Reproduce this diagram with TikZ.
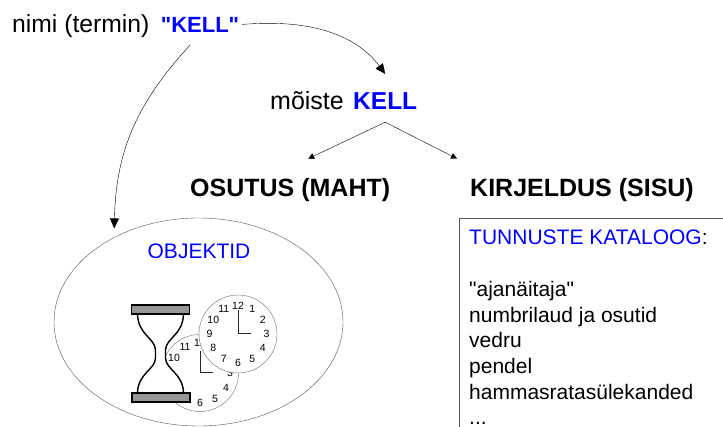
\documentclass[tikz,border=0pt]{standalone}
\usepackage{fontspec}
\setmainfont{Liberation Sans}[Ligatures=TeXOff]
\usepackage{tikz}
\usepackage{xcolor}
\usetikzlibrary{arrows.meta, positioning, shapes.geometric}

\definecolor{kellblue}{RGB}{0,0,255}
\definecolor{rim}{RGB}{85,85,85}
\definecolor{dial}{RGB}{110,110,110}
\definecolor{bargray}{RGB}{150,150,150}
\newcommand{\fsz}[1]{\fontsize{#1}{#1}\selectfont}

\begin{document}
\begin{tikzpicture}[x=1pt, y=-1pt,
    txt/.style={inner sep=0pt, anchor=base west},
    arr/.style={-{Triangle[length=10pt,width=9pt]}, thin},
    sarr/.style={-{Triangle[length=6pt,width=6pt]}, thin},
    num/.style={inner sep=0pt, font=\fsz{10.5}},
    hand/.style={black!85, line width=1pt},
    glass/.style={black, line width=1.4pt}]
    \useasboundingbox (0,0) rectangle (723,427);

    % Name and concept
    \node[txt, font=\fsz{24.7}] (term) at (12,33) {nimi (termin)};
    \node[txt, font=\fsz{22}\bfseries, text=kellblue, right=11pt of term.base east, anchor=base west] (word) {"KELL"};
    \node[txt, font=\fsz{25}] (concept) at (270,110) {mõiste};
    \node[txt, font=\fsz{24.5}\bfseries, text=kellblue, right=9pt of concept.base east, anchor=base west] (kell) {KELL};
    \node[txt, font=\fsz{25}\bfseries] (extent) at (190,197) {OSUTUS (MAHT)};
    \node[txt, font=\fsz{25}\bfseries] (intent) at (470,197) {KIRJELDUS (SISU)};

    % Arrows
    \draw[arr] ([xshift=3pt,yshift=1pt]word.east) .. controls (320,18) and (360,40) .. ([yshift=19pt]kell.north);
    \draw[sarr] ([yshift=-12pt]kell.south) -- ([shift={(18,-20)}]extent.north);
    \draw[sarr] ([yshift=-12pt]kell.south) -- ([shift={(-13,-20)}]intent.north west);

    % Objects
    \node[ellipse, draw=rim, minimum width=289pt, minimum height=208pt, inner sep=0pt] (objects) at (198.5,322) {};
    \node[inner sep=0pt, anchor=base, font=\fsz{21}, text=kellblue] (objlabel) at (199,259) {OBJEKTID};
    \draw[arr, shorten >=9pt] ([shift={(-10,12)}]word.south) .. controls (130,110) and (116,160) .. (objects.135);

    % Back clock
    \coordinate (bc) at (200,373);
    \draw[dial, fill=white] (bc) circle[radius=38.5pt];
    \foreach \n in {1,...,12}
        \node[num] (b\n) at ([shift={(90-30*\n:30pt)}]bc) {\n};
    \draw[hand] ([yshift=22pt]bc) -- (bc) -- ([xshift=13pt]bc);

    % Hourglass
    \fill[white] (137.5,314) .. controls (138,335) and (155,338) .. (155.5,350) -- (155.5,358)
        .. controls (155,370) and (138,373) .. (137.5,393) -- (183.5,393)
        .. controls (183,373) and (166,370) .. (165.5,358) -- (165.5,350)
        .. controls (166,338) and (183,335) .. (183.5,314) -- cycle;
    \draw[glass] (137.5,314) .. controls (138,335) and (155,338) .. (155.5,350) -- (155.5,358)
        .. controls (155,370) and (138,373) .. (137.5,393);
    \draw[glass] (183.5,314) .. controls (183,335) and (166,338) .. (165.5,350) -- (165.5,358)
        .. controls (166,370) and (183,373) .. (183.5,393);
    \draw[black, line width=1.2pt, fill=bargray] (131.5,305) rectangle (189.5,314);
    \draw[black, line width=1.2pt, fill=bargray] (132,393) rectangle (190,402);

    % Front clock
    \coordinate (fc) at (238,334);
    \draw[dial, fill=white] (fc) circle[radius=39pt];
    \foreach \n in {1,...,12}
        \node[num] (f\n) at ([shift={(90-30*\n:28.5pt)}]fc) {\n};
    \draw[hand] ([yshift=24pt]fc) -- (fc) -- ([xshift=13pt]fc);

    % Catalog
    \node[draw=rim, minimum width=300pt, minimum height=230pt, anchor=north west, inner sep=0pt] (catalog) at (459,218) {};
    \node[txt, font=\fsz{21}] (title) at (469,245) {\textcolor{kellblue}{TUNNUSTE KATALOOG}:};
    \foreach \t [count=\i] in {"ajanäitaja", numbrilaud ja osutid, vedru, pendel, hammasratasülekanded}
        \node[txt, font=\fsz{21}] (trait\i) at (469,{245+25.7*(\i+1)}) {\t};
    \node[txt, font=\fsz{21}] (more) at (469,424.5) {...};
\end{tikzpicture}
\end{document}
